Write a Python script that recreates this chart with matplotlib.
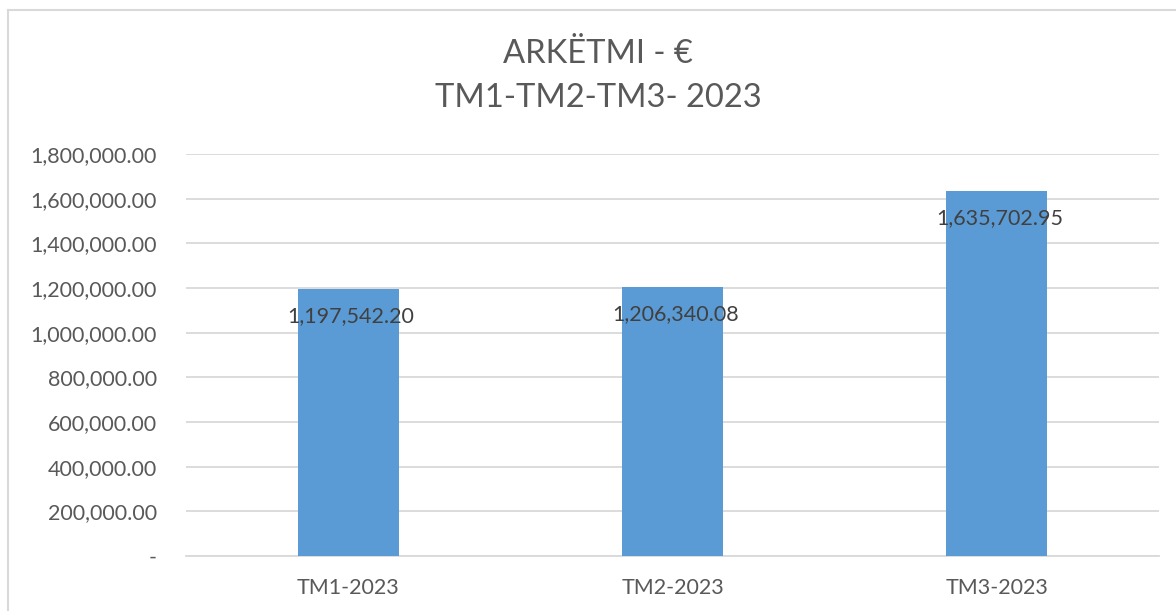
import matplotlib
matplotlib.use("Agg")
import matplotlib.pyplot as plt
from matplotlib.lines import Line2D
from matplotlib.ticker import FuncFormatter

categories = ["TM1-2023", "TM2-2023", "TM3-2023"]
values = [1197542.20, 1206340.08, 1635702.95]
yticks = [0, 200000, 400000, 600000, 800000, 1000000, 1200000, 1400000, 1600000, 1800000]
title = "ARKËTMI - €\nTM1-TM2-TM3- 2023"

plt.rcParams['font.family'] = ['Lato', 'DejaVu Sans']

W, H = 1176, 611
fig = plt.figure(figsize=(W / 100, H / 100), dpi=100)
ax = fig.add_axes([186 / W, 1 - 556 / H, (1159 - 186) / W, (556 - 154) / H])

x = list(range(len(categories)))
bars = ax.bar(x, values, width=0.311, color="#5B9BD5", zorder=3)

ax.set_xlim(-0.5, len(categories) - 0.5)
ax.set_ylim(0, 1800000)
ax.set_yticks(yticks)
ax.yaxis.set_major_formatter(FuncFormatter(lambda v, p: "-" if v == 0 else f"{v:,.2f}"))
ax.set_xticks(x)
ax.set_xticklabels(categories)
ax.grid(axis="y", color="#D9D9D9", linewidth=1.3, zorder=0)
for s in ["top", "right", "left"]:
    ax.spines[s].set_visible(False)
ax.spines["bottom"].set_color("#D9D9D9")
ax.spines["bottom"].set_linewidth(1.3)
ax.tick_params(axis="both", length=0, colors="#595959", labelsize=15.5)
ax.tick_params(axis="y", pad=21)
ax.tick_params(axis="x", pad=16)

for xi, v in zip(x, values):
    ax.annotate(f"{v:,.2f}", (xi, v), xytext=(2, -20), textcoords="offset points",
                ha="center", va="center", fontsize=15.5, color="#404040", zorder=4)

fig.text(598 / W, 1 - 76 / H, title, ha="center", va="center", fontsize=23.6,
         color="#595959", linespacing=1.55)

fig.add_artist(Line2D([8 / W, 8 / W], [0, 1 - 10 / H], transform=fig.transFigure, color="#D9D9D9", linewidth=1.5))
fig.add_artist(Line2D([8 / W, 1], [1 - 10 / H, 1 - 10 / H], transform=fig.transFigure, color="#D9D9D9", linewidth=1.5))

fig.savefig("out.png", dpi=100)
